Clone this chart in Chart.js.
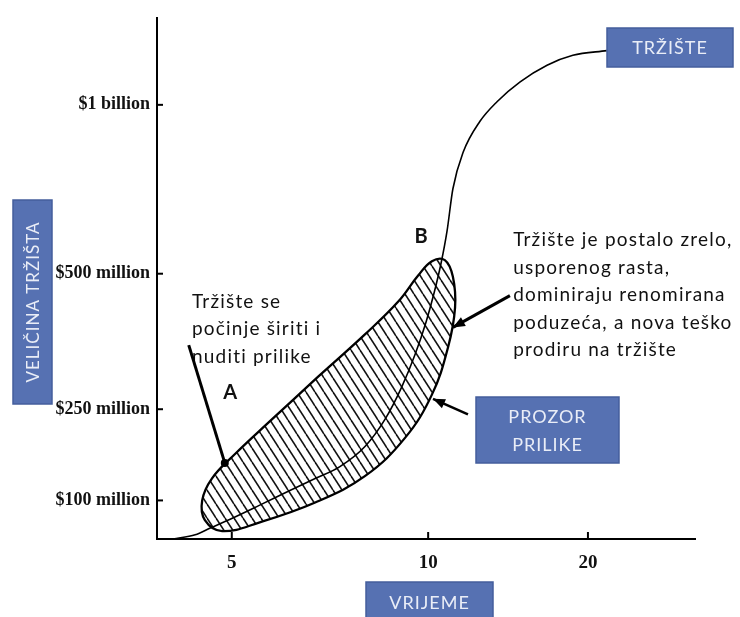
<!DOCTYPE html>
<html>
<head>
<meta charset="utf-8">
<script src="https://cdn.jsdelivr.net/npm/chart.js@4.4.1/dist/chart.umd.min.js"></script>
<style>
  html, body { margin: 0; padding: 0; background: #fff; }
  #wrap { width: 740px; height: 617px; }
</style>
</head>
<body>
<div id="wrap"><canvas id="marketChart" width="740" height="617"></canvas></div>
<script>
// figure scale runs 0-100 on both axes; ticks sit where the book put them
const xTickPos = [13.9, 50.4, 80.1];
const xTickLabels = ['5', '10', '20'];
const yTickPos = [7.4, 24.9, 50.9, 83.3];
const yTickLabels = ['$100 million', '$250 million', '$500 million', '$1 billion'];

// market size S-curve
const marketX = [3.0, 7.1, 9.9, 13.6, 19.1, 24.7, 29.4, 34.0, 38.7, 42.4, 45.5, 48.0, 50.0, 51.5, 52.8, 53.9, 55.0, 56.9, 60.0, 63.2, 67.5, 72.5, 77.3, 83.6];
const marketY = [0, 0.8, 2.1, 3.8, 6.5, 9.3, 11.6, 13.9, 17.8, 23.0, 29.2, 35.5, 41.6, 47.2, 52.9, 59.0, 67.2, 74.2, 80.1, 83.9, 87.7, 90.9, 92.8, 93.7];

// window of opportunity (hatched area), closed outline starting mid upper edge
const windowX = [29.7, 38.7, 44.8, 48.5, 51.1, 53.5, 55.0, 55.4, 54.1, 51.1, 46.1, 38.7, 29.4, 19.1, 12.1, 8.9, 8.4, 10.2, 14.5, 21.0, 29.7];
const windowY = [30.9, 39.3, 45.5, 50.5, 53.3, 53.5, 50.3, 44.4, 36.8, 27.7, 19.4, 12.1, 7.0, 3.2, 1.5, 3.6, 7.4, 11.6, 16.3, 22.6, 30.9];

const BOX_FILL = '#5671b2';
const BOX_EDGE = '#445e9c';
const BOX_TEXT = '#e9edf7';
const NOTE_FONT = 'Lato, "Open Sans", sans-serif';

function hatchPattern() {
  const tile = document.createElement('canvas');
  tile.width = 9;
  tile.height = 14;
  const t = tile.getContext('2d');
  t.strokeStyle = '#111';
  t.lineWidth = 1.6;
  [-9, 0, 9].forEach(ox => {
    t.beginPath();
    t.moveTo(ox, 0);
    t.lineTo(ox + 9, 14);
    t.stroke();
  });
  return t.createPattern(tile, 'repeat');
}

function arrow(ctx, a, b, width, head) {
  ctx.save();
  ctx.strokeStyle = '#000';
  ctx.fillStyle = '#000';
  ctx.lineWidth = width;
  ctx.beginPath();
  ctx.moveTo(a[0], a[1]);
  ctx.lineTo(b[0], b[1]);
  ctx.stroke();
  if (head === 'dot') {
    ctx.beginPath();
    ctx.arc(b[0], b[1], 4, 0, Math.PI * 2);
    ctx.fill();
  } else {
    const ang = Math.atan2(b[1] - a[1], b[0] - a[0]);
    ctx.beginPath();
    ctx.moveTo(b[0], b[1]);
    ctx.lineTo(b[0] - 12 * Math.cos(ang) + 5 * Math.sin(ang), b[1] - 12 * Math.sin(ang) - 5 * Math.cos(ang));
    ctx.lineTo(b[0] - 12 * Math.cos(ang) - 5 * Math.sin(ang), b[1] - 12 * Math.sin(ang) + 5 * Math.cos(ang));
    ctx.closePath();
    ctx.fill();
  }
  ctx.restore();
}

function box(ctx, x0, y0, x1, y1, lines, rotate) {
  ctx.save();
  ctx.fillStyle = BOX_FILL;
  ctx.strokeStyle = BOX_EDGE;
  ctx.lineWidth = 1.5;
  ctx.fillRect(x0, y0, x1 - x0, y1 - y0);
  ctx.strokeRect(x0, y0, x1 - x0, y1 - y0);
  ctx.fillStyle = BOX_TEXT;
  ctx.font = (rotate ? '17px ' : '18px ') + NOTE_FONT;
  ctx.letterSpacing = '1px';
  ctx.textAlign = 'center';
  ctx.textBaseline = 'middle';
  ctx.translate((x0 + x1) / 2, (y0 + y1) / 2);
  if (rotate) ctx.rotate(-Math.PI / 2);
  const lh = 28;
  lines.forEach((s, i) => ctx.fillText(s, 0, (i - (lines.length - 1) / 2) * lh + 1));
  ctx.restore();
}

function textBlock(ctx, p, lines, lh) {
  ctx.save();
  ctx.fillStyle = '#111';
  ctx.font = '19px ' + NOTE_FONT;
  ctx.letterSpacing = '1.2px';
  ctx.textAlign = 'left';
  ctx.textBaseline = 'middle';
  lines.forEach((s, i) => ctx.fillText(s, p[0], p[1] + i * lh));
  ctx.restore();
}

const notesPlugin = {
  id: 'notes',
  afterDraw(chart) {
    const { ctx, chartArea: area, scales: { x, y } } = chart;
    const at = (a, b) => [x.getPixelForValue(a), y.getPixelForValue(b)];

    // inward tick marks
    ctx.save();
    ctx.strokeStyle = '#000';
    ctx.lineWidth = 2;
    yTickPos.forEach(v => {
      const py = y.getPixelForValue(v);
      ctx.beginPath();
      ctx.moveTo(area.left, py);
      ctx.lineTo(area.left + 6, py);
      ctx.stroke();
    });
    xTickPos.forEach(v => {
      const px = x.getPixelForValue(v);
      ctx.beginPath();
      ctx.moveTo(px, area.bottom);
      ctx.lineTo(px, area.bottom - 7);
      ctx.stroke();
    });
    ctx.restore();

    // notes on the plot
    textBlock(ctx, at(6.5, 45.5), ['Tržište se', 'počinje širiti i', 'nuditi prilike'], 27.5);
    textBlock(ctx, at(66.2, 57.3), ['Tržište je postalo zrelo,', 'usporenog rasta,', 'dominiraju renomirana', 'poduzeća, a nova teško', 'prodiru na tržište'], 27.5);

    ctx.save();
    ctx.fillStyle = '#111';
    ctx.font = 'bold 20px ' + NOTE_FONT;
    ctx.textAlign = 'center';
    ctx.textBaseline = 'middle';
    let p = at(13.6, 28.1);
    ctx.fillText('A', p[0], p[1]);
    p = at(49.1, 58.1);
    ctx.fillText('B', p[0], p[1]);
    ctx.restore();

    arrow(ctx, at(5.9, 37.2), at(12.6, 14.6), 3, 'dot');
    arrow(ctx, at(65.6, 46.7), at(55.0, 40.6), 3, 'head');
    arrow(ctx, at(57.8, 23.9), at(51.3, 26.9), 2.5, 'head');

    // blue label boxes
    box(ctx, 607, 28, 733, 67, ['TRŽIŠTE']);
    box(ctx, 476, 397, 619, 463, ['PROZOR', 'PRILIKE']);
    box(ctx, 366, 582, 493, 622, ['VRIJEME']);
    box(ctx, 13, 200, 52, 404, ['VELIČINA TRŽIŠTA'], true);
  }
};

const marketPoints = marketX.map((v, i) => ({ x: v, y: marketY[i] }));
const windowPoints = windowX.map((v, i) => ({ x: v, y: windowY[i] }));

new Chart(document.getElementById('marketChart'), {
  type: 'line',
  data: {
    datasets: [
      {
        label: 'Tržište',
        data: marketPoints,
        borderColor: '#000',
        borderWidth: 1.6,
        pointRadius: 0,
        fill: false,
        cubicInterpolationMode: 'monotone',
        order: 0,
      },
      {
        label: 'Prozor prilike',
        data: windowPoints,
        borderColor: '#000',
        borderWidth: 2.3,
        backgroundColor: hatchPattern(),
        pointRadius: 0,
        tension: 0.4,
        fill: 'shape',
        order: 1,
      },
    ],
  },
  options: {
    responsive: false,
    devicePixelRatio: 1,
    animation: false,
    events: [],
    layout: { padding: { top: 12, right: 45, left: 0, bottom: 0 } },
    plugins: { legend: { display: false }, tooltip: { enabled: false } },
    scales: {
      x: {
        type: 'linear',
        min: 0,
        max: 100,
        grid: { display: false, drawTicks: false, tickLength: 0 },
        border: { display: true, color: '#000', width: 2 },
        afterBuildTicks: s => { s.ticks = xTickPos.map(v => ({ value: v })); },
        afterFit: s => { s.height = 78; },
        ticks: {
          autoSkip: false,
          maxRotation: 0,
          padding: 13,
          color: '#111',
          font: { family: '"Liberation Serif", serif', size: 19, weight: 'bold' },
          callback: (v, i) => xTickLabels[i],
        },
      },
      y: {
        type: 'linear',
        min: 0,
        max: 100,
        grid: { display: false, drawTicks: false, tickLength: 0 },
        border: { display: true, color: '#000', width: 2 },
        afterBuildTicks: s => { s.ticks = yTickPos.map(v => ({ value: v })); },
        afterFit: s => { s.width = 157; },
        ticks: {
          autoSkip: false,
          padding: 7,
          color: '#111',
          font: { family: '"Liberation Serif", serif', size: 18, weight: 'bold' },
          callback: (v, i) => yTickLabels[i],
        },
      },
    },
  },
  plugins: [notesPlugin],
});
</script>
</body>
</html>
